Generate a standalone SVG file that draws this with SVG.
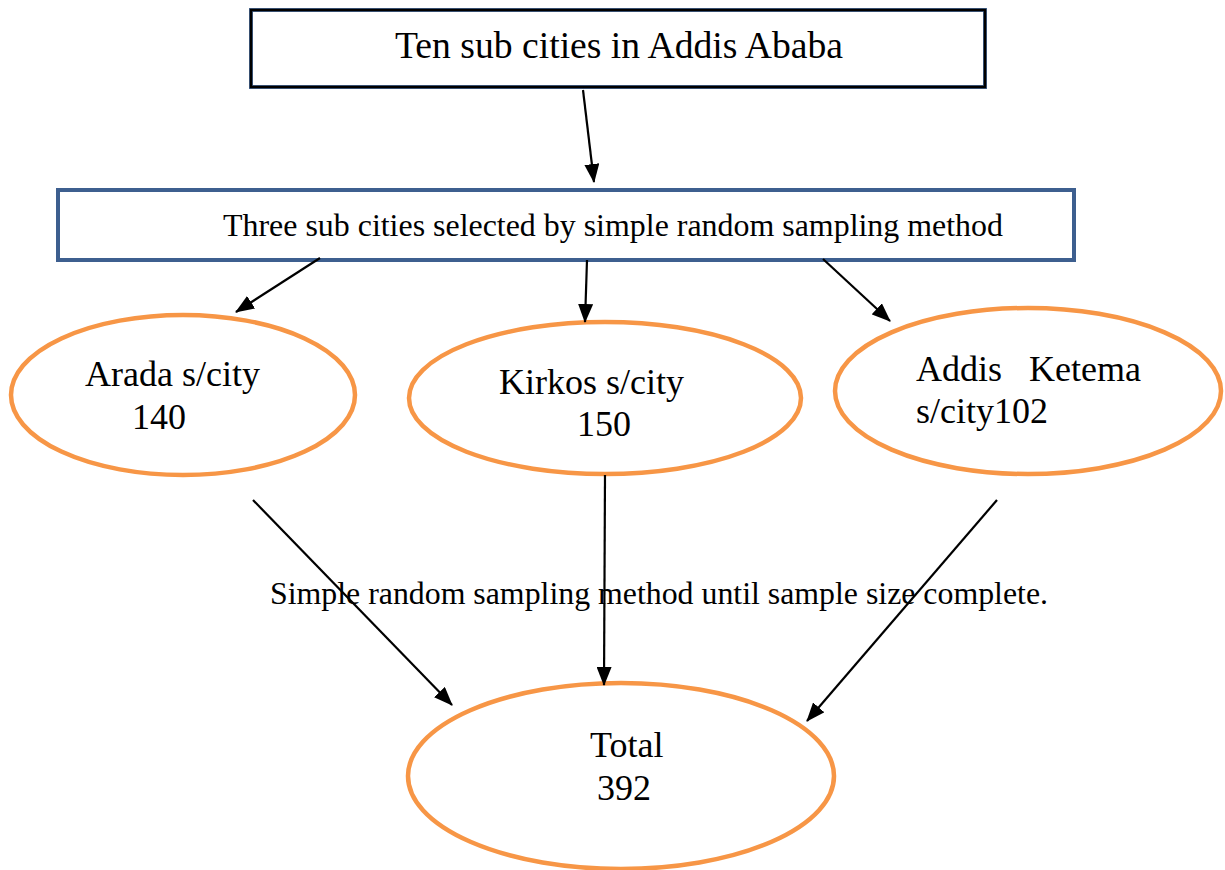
<svg xmlns="http://www.w3.org/2000/svg" width="1225" height="870" viewBox="0 0 1225 870">
<defs>
<style>
.t{font-family:"Liberation Serif","Times New Roman",serif;fill:#000}
.big{font-size:36px}
.mid{font-size:32px}
.ell{fill:#fff;stroke:#f79646;stroke-width:4.5}
.con{stroke:#000;stroke-width:2.2;fill:none;marker-end:url(#ah)}
</style>
<marker id="ah" markerUnits="userSpaceOnUse" markerWidth="19" markerHeight="15" refX="18" refY="7.5" orient="auto">
<path d="M0,0 L19,7.5 L0,15 Z" fill="#000"/>
</marker>
</defs>
<rect width="1225" height="870" fill="#fff"/>
<g id="top">
<rect x="251" y="10" width="734" height="77" fill="#fff" stroke="#4a6a96" stroke-width="4"/>
<rect x="251" y="10" width="734" height="77" fill="none" stroke="#000" stroke-width="2.5"/>
<text class="t" font-size="37" x="395" y="58" textLength="448" lengthAdjust="spacingAndGlyphs">Ten sub cities in Addis Ababa</text>
</g>
<g id="selected">
<rect x="58" y="190" width="1016" height="70" fill="#fff" stroke="#3d5f8f" stroke-width="4"/>
<text class="t mid" x="223" y="236" textLength="780" lengthAdjust="spacingAndGlyphs">Three sub cities selected by simple random sampling method</text>
</g>
<g id="arada">
<ellipse class="ell" cx="183" cy="395" rx="172" ry="80"/>
<text class="t big" x="85" y="386">Arada s/city</text>
<text class="t big" x="132" y="429">140</text>
</g>
<g id="kirkos">
<ellipse class="ell" cx="605" cy="398" rx="196" ry="76"/>
<text class="t big" x="499" y="394">Kirkos s/city</text>
<text class="t big" x="577" y="436">150</text>
</g>
<g id="addisketema">
<ellipse class="ell" cx="1028" cy="391" rx="193" ry="83"/>
<text class="t big" x="916" y="381">Addis</text>
<text class="t big" x="1141" y="381" text-anchor="end">Ketema</text>
<text class="t big" x="916" y="423">s/city102</text>
</g>
<g id="total">
<ellipse class="ell" cx="621" cy="776" rx="213" ry="93"/>
<text class="t big" x="590" y="757">Total</text>
<text class="t big" x="597" y="800">392</text>
</g>
<g id="connectors">
<line class="con" x1="583" y1="90" x2="594" y2="182"/>
<line class="con" x1="320" y1="258" x2="236" y2="312"/>
<line class="con" x1="587" y1="260" x2="585" y2="322"/>
<line class="con" x1="823" y1="259" x2="890" y2="321"/>
<line class="con" x1="253" y1="500" x2="452" y2="705"/>
<line class="con" x1="605" y1="475" x2="604" y2="685"/>
<line class="con" x1="997" y1="500" x2="807" y2="721"/>
</g>
<g id="label">
<text class="t mid" x="270" y="604" textLength="778" lengthAdjust="spacingAndGlyphs">Simple random sampling method until sample size complete.</text>
</g>
</svg>
